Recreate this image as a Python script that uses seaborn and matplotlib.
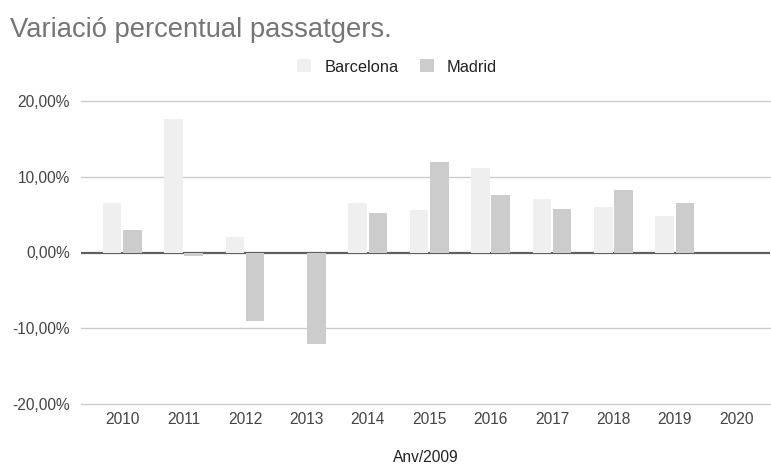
import matplotlib
matplotlib.use("Agg")
import matplotlib.pyplot as plt
import seaborn as sns
import pandas as pd
import numpy as np
from matplotlib.ticker import FuncFormatter

years = ["2010", "2011", "2012", "2013", "2014", "2015", "2016", "2017", "2018", "2019", "2020"]
barcelona = [6.5, 17.6, 2.0, -0.1, 6.5, 5.6, 11.15, 7.05, 6.0, 4.85, np.nan]
madrid = [2.95, -0.45, -9.1, -12.1, 5.25, 11.9, 7.6, 5.8, 8.3, 6.5, np.nan]
series = ["Barcelona", "Madrid"]
colors = ["#efefef", "#cccccc"]
yticks = [-20, -10, 0, 10, 20]

df = pd.DataFrame({
    "Any": years * 2,
    "Ciutat": [series[0]] * len(years) + [series[1]] * len(years),
    "Valor": barcelona + madrid,
})

sns.set_theme(style="white")
plt.rcParams["font.family"] = ["Liberation Sans", "DejaVu Sans"]

fig = plt.figure(figsize=(7.71, 4.67), dpi=100)
ax = fig.add_axes([81 / 771, 1 - 404 / 467, (770 - 81) / 771, (404 - 101) / 467])

sns.barplot(data=df, x="Any", y="Valor", hue="Ciutat", order=years, hue_order=series,
            palette=colors, width=0.66, gap=0.08, saturation=1, ax=ax, legend=True,
            edgecolor="none", linewidth=0, zorder=3)

ax.set_xlim(-0.67, 10.55)
ax.set_ylim(-20, 20)
ax.set_yticks(yticks)
ax.yaxis.set_major_formatter(FuncFormatter(lambda v, p: f"{v:.2f}%".replace(".", ",")))
for y in yticks:
    if y != 0:
        ax.axhline(y, color="#cccccc", lw=1, zorder=1, clip_on=False)
ax.axhline(0, color="#5f5f5f", lw=1.6, zorder=2)
for s in ax.spines.values():
    s.set_visible(False)
ax.tick_params(axis="both", length=0, labelsize=11.2, labelcolor="#444444")
ax.tick_params(axis="y", pad=8)
ax.tick_params(axis="x", pad=6)
ax.set_xlabel("Anv/2009", fontsize=11.2, color="#222222", labelpad=16)
ax.set_ylabel("")

handles, labels = ax.get_legend_handles_labels()
ax.get_legend().remove()
fig.legend(handles, labels, loc="center", bbox_to_anchor=(397 / 771, 1 - 67 / 467), ncol=2,
           frameon=False, fontsize=11.8, handlelength=0.85, handleheight=0.85,
           handletextpad=0.8, columnspacing=1.3, labelcolor="#222222")

fig.text(10 / 771, 1 - 30 / 467, "Variació percentual passatgers.", fontsize=19.7,
         color="#757575", ha="left", va="center")

fig.savefig("out.png", dpi=100)
